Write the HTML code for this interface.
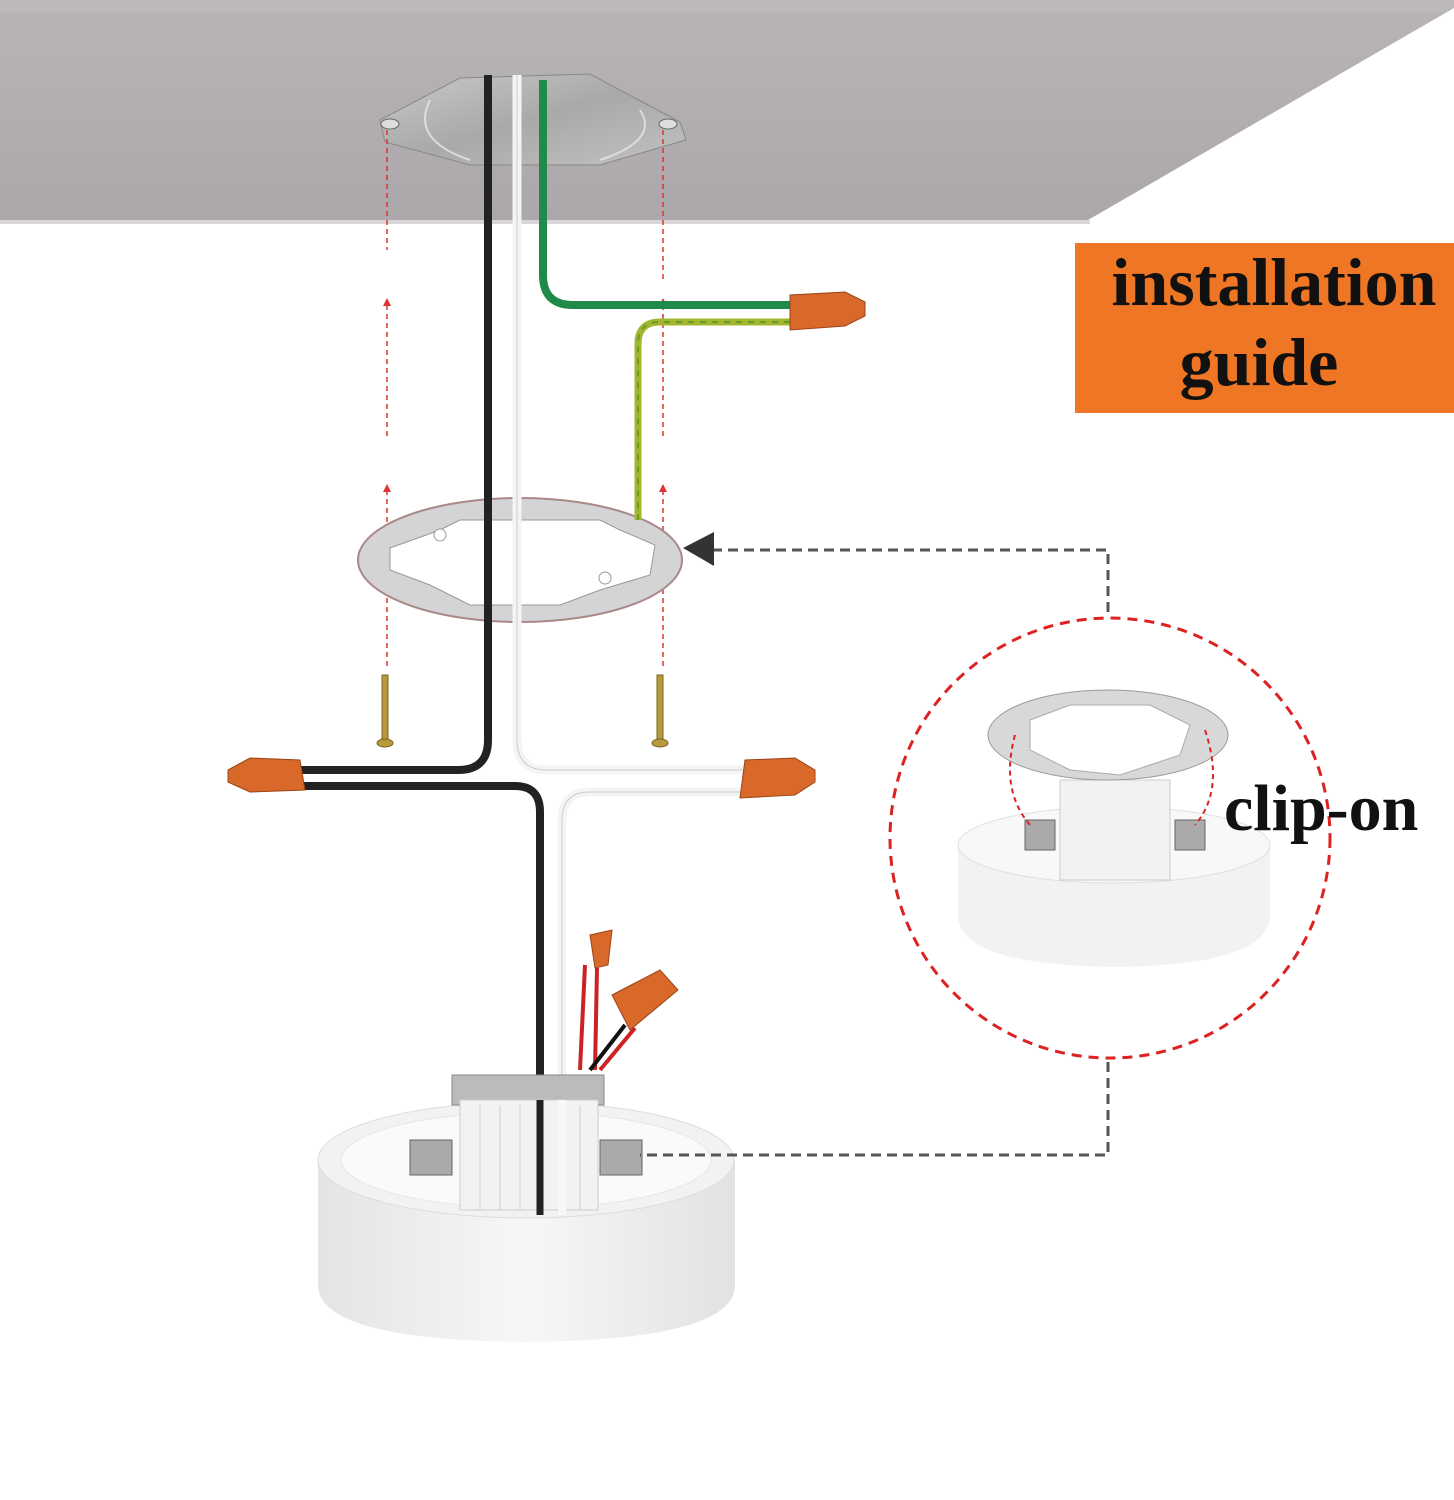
<!DOCTYPE html>
<html><head><style>html,body{margin:0;padding:0;background:#fff}svg{display:block}</style></head>
<body>
<svg width="1454" height="1500" viewBox="0 0 1454 1500" xmlns="http://www.w3.org/2000/svg">
<defs>
<linearGradient id="ceil" x1="0" y1="0" x2="0" y2="1"><stop offset="0" stop-color="#b9b4b7"/><stop offset="1" stop-color="#aca7aa"/></linearGradient>
<linearGradient id="cyl" x1="0" y1="0" x2="1" y2="0"><stop offset="0" stop-color="#e4e4e4"/><stop offset="0.5" stop-color="#f7f7f7"/><stop offset="1" stop-color="#e2e2e2"/></linearGradient>
<linearGradient id="met" x1="0" y1="0" x2="1" y2="1"><stop offset="0" stop-color="#c9c9c9"/><stop offset="0.5" stop-color="#a9a9a9"/><stop offset="1" stop-color="#c2c2c2"/></linearGradient>
</defs>
<polygon points="0,0 1454,0 1454,8 1088,220 0,220" fill="url(#ceil)"/>
<polygon points="0,0 1454,0 1454,8 1440,12 0,12" fill="#bdb8bb"/>
<rect x="0" y="220" width="1090" height="4" fill="#d8d6d7"/>
<polygon points="380,120 460,78 590,74 680,122 686,140 600,165 470,165 385,142" fill="url(#met)" stroke="#888" stroke-width="1"/>
<path d="M430,100 Q410,140 470,160" fill="none" stroke="#ddd" stroke-width="2"/>
<path d="M640,110 Q660,140 600,160" fill="none" stroke="#ddd" stroke-width="2"/>
<ellipse cx="390" cy="124" rx="9" ry="5" fill="#ddd" stroke="#666"/>
<ellipse cx="668" cy="124" rx="9" ry="5" fill="#ddd" stroke="#666"/>
<g stroke="#d33" stroke-width="1.5" stroke-dasharray="5,4" fill="none">
<line x1="387" y1="130" x2="387" y2="250"/><line x1="387" y1="305" x2="387" y2="440"/><line x1="387" y1="490" x2="387" y2="670"/>
<line x1="663" y1="130" x2="663" y2="280"/><line x1="663" y1="305" x2="663" y2="440"/><line x1="663" y1="490" x2="663" y2="670"/>
</g>
<g fill="#d33"><polygon points="383,306 387,298 391,306"/><polygon points="383,492 387,484 391,492"/><polygon points="659,306 663,298 667,306"/><polygon points="659,492 663,484 667,492"/></g>
<ellipse cx="520" cy="560" rx="162" ry="62" fill="#d4d4d6" stroke="#a88" stroke-width="2"/>
<path d="M390,548 L440,530 L460,520 L600,520 L620,530 L655,545 L650,575 L600,590 L560,605 L470,605 L430,585 L390,570 Z" fill="#fff" stroke="#999"/>
<circle cx="605" cy="578" r="6" fill="#fff" stroke="#999"/><circle cx="440" cy="535" r="6" fill="#fff" stroke="#999"/>
<g fill="#b89a3c" stroke="#7a6420"><rect x="382" y="675" width="6" height="65"/><ellipse cx="385" cy="743" rx="8" ry="4"/><rect x="657" y="675" width="6" height="65"/><ellipse cx="660" cy="743" rx="8" ry="4"/></g>
<path d="M488,75 L488,740 Q488,770 458,770 L300,770" fill="none" stroke="#222" stroke-width="8"/>
<path d="M517,75 L517,740 Q517,770 547,770 L745,770" fill="none" stroke="#f4f4f4" stroke-width="9"/>
<path d="M517,75 L517,740 Q517,770 547,770 L745,770" fill="none" stroke="#ccc" stroke-width="1"/>
<path d="M543,80 L543,275 Q543,305 573,305 L790,305" fill="none" stroke="#1f8a4a" stroke-width="8"/>
<path d="M790,322 L660,322 Q638,322 638,344 L638,520" fill="none" stroke="#a3b72e" stroke-width="7"/>
<path d="M790,322 L660,322 Q638,322 638,344 L638,520" fill="none" stroke="#6a9a2a" stroke-width="2" stroke-dasharray="6,6"/>
<path d="M300,786 L515,786 Q540,786 540,812 L540,1215" fill="none" stroke="#222" stroke-width="8"/>
<path d="M745,792 L590,792 Q562,792 562,820 L562,1215" fill="none" stroke="#f4f4f4" stroke-width="9"/>
<path d="M745,792 L590,792 Q562,792 562,820 L562,1215" fill="none" stroke="#ccc" stroke-width="1"/>
<g fill="#d8692a" stroke="#9c4416">
<polygon points="228,770 250,758 300,760 305,790 250,792 228,782"/>
<polygon points="815,770 795,758 745,760 740,798 795,795 815,782"/>
<polygon points="865,302 845,292 790,295 790,330 845,326 865,316"/>
<polygon points="590,935 612,930 608,965 595,968"/>
<polygon points="612,995 660,970 678,990 630,1030"/>
</g>
<path d="M585,965 L580,1070 M597,968 L595,1070" stroke="#c22" stroke-width="4" fill="none"/>
<path d="M625,1025 L590,1070" stroke="#111" stroke-width="4"/><path d="M635,1028 L600,1070" stroke="#c22" stroke-width="4"/>
<path d="M318,1160 L318,1285 Q318,1340 526,1342 Q735,1340 735,1285 L735,1160 Z" fill="url(#cyl)"/>
<ellipse cx="526" cy="1160" rx="208" ry="58" fill="#f2f2f2" stroke="#ddd"/>
<ellipse cx="526" cy="1160" rx="185" ry="48" fill="#fafafa" stroke="#e6e6e6"/>
<rect x="452" y="1075" width="152" height="30" fill="#bbb" stroke="#888"/>
<rect x="460" y="1100" width="138" height="110" fill="#f2f2f2" stroke="#ccc"/>
<g stroke="#ccc"><line x1="480" y1="1105" x2="480" y2="1210"/><line x1="500" y1="1105" x2="500" y2="1210"/><line x1="520" y1="1105" x2="520" y2="1210"/><line x1="580" y1="1105" x2="580" y2="1210"/></g>
<path d="M540,1100 L540,1215" stroke="#222" stroke-width="7"/>
<path d="M562,1100 L562,1215" stroke="#f8f8f8" stroke-width="8"/>
<rect x="410" y="1140" width="42" height="35" fill="#aaa" stroke="#666"/>
<rect x="600" y="1140" width="42" height="35" fill="#aaa" stroke="#666"/>
<g stroke="#555" stroke-width="3" stroke-dasharray="10,6" fill="none">
<polyline points="712,550 1108,550 1108,615"/>
<polyline points="1108,1062 1108,1155 640,1155"/>
</g>
<polygon points="683,548 714,532 714,566" fill="#333"/>
<circle cx="1110" cy="838" r="220" fill="none" stroke="#d22" stroke-width="3" stroke-dasharray="10,7"/>
<path d="M958,845 L958,915 Q958,965 1115,967 Q1270,965 1270,915 L1270,845 Z" fill="#f2f2f2"/>
<ellipse cx="1114" cy="845" rx="156" ry="38" fill="#f8f8f8" stroke="#e0e0e0"/>
<rect x="1060" y="780" width="110" height="100" fill="#f2f2f2" stroke="#ccc"/>
<ellipse cx="1108" cy="735" rx="120" ry="45" fill="#d8d8da" stroke="#999"/>
<path d="M1030,720 L1070,705 L1150,705 L1190,725 L1180,755 L1120,775 L1070,770 L1030,750 Z" fill="#fff" stroke="#aaa"/>
<rect x="1025" y="820" width="30" height="30" fill="#aaa" stroke="#666"/>
<rect x="1175" y="820" width="30" height="30" fill="#aaa" stroke="#666"/>
<path d="M1015,735 Q1000,790 1030,825" fill="none" stroke="#d22" stroke-width="2" stroke-dasharray="5,4"/>
<path d="M1205,730 Q1225,790 1195,825" fill="none" stroke="#d22" stroke-width="2" stroke-dasharray="5,4"/>
<text x="1224" y="830" font-family="Liberation Serif, serif" font-weight="bold" font-size="66" fill="#111">clip-on</text>
<rect x="1075" y="243" width="379" height="170" fill="#ee7624"/>
<text x="1274" y="305" text-anchor="middle" font-family="Liberation Serif, serif" font-weight="bold" font-size="68" fill="#111">installation</text>
<text x="1259" y="385" text-anchor="middle" font-family="Liberation Serif, serif" font-weight="bold" font-size="68" fill="#111">guide</text>
</svg>
</body></html>
